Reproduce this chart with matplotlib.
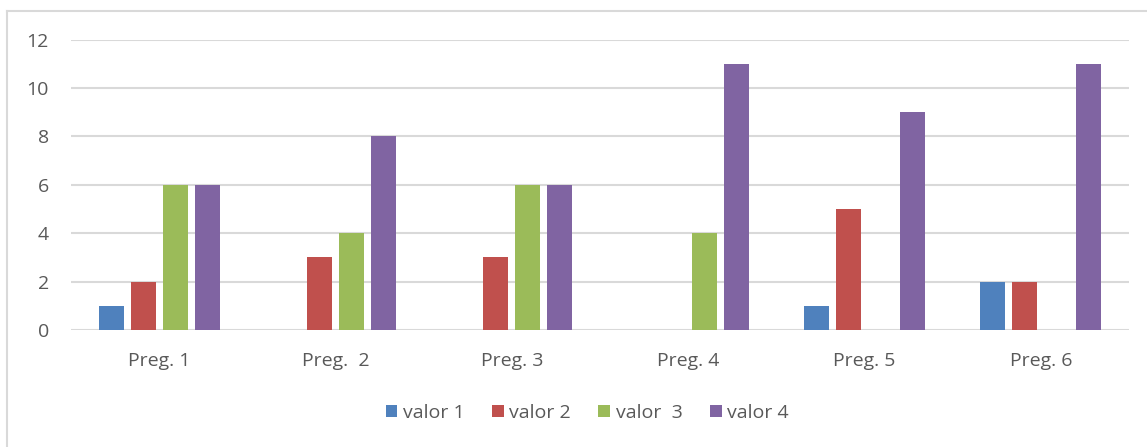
import numpy as np
import matplotlib.pyplot as plt
from matplotlib.lines import Line2D

plt.rcParams['font.family'] = ['Open Sans', 'DejaVu Sans']

preguntas = ['Preg. 1', 'Preg.  2', 'Preg. 3', 'Preg. 4', 'Preg. 5', 'Preg. 6']
series = ['valor 1', 'valor 2', 'valor  3', 'valor 4']
valor1 = [1, 0, 0, 0, 1, 2]
valor2 = [2, 3, 3, 0, 5, 2]
valor3 = [6, 4, 6, 4, 0, 0]
valor4 = [6, 8, 6, 11, 9, 11]
colores = ['#4F81BD', '#C0504D', '#9BBB59', '#8064A2']

texto = '#595959'
rejilla = '#D9D9D9'

fig = plt.figure(figsize=(11.47, 4.47), dpi=100)
ax = fig.add_axes([0.0619, 0.2617, 0.9224, 0.6499])

x = np.arange(len(preguntas))
ancho = 0.142
paso = 0.1815
for i, (vals, nombre, c) in enumerate(zip([valor1, valor2, valor3, valor4], series, colores)):
    ax.bar(x + (i - 1.5) * paso, vals, ancho, color=c, label=nombre, zorder=3)

ax.set_xlim(-0.5, len(preguntas) - 0.5)
ax.set_ylim(0, 12)
ax.set_yticks(range(0, 13, 2))
ax.set_xticks(x)
ax.set_xticklabels(preguntas)
ax.grid(axis='y', color=rejilla, linewidth=1.5, zorder=0)
for s in ax.spines.values():
    s.set_visible(False)
ax.tick_params(length=0, labelsize=14, colors=texto)
ax.tick_params(axis='x', pad=16)
ax.tick_params(axis='y', pad=16)

ax.legend(loc='center', bbox_to_anchor=(0.512, 1 - 413 / 447), bbox_transform=fig.transFigure,
          ncol=4, frameon=False, fontsize=14, handlelength=0.6, handleheight=0.6,
          handletextpad=0.3, columnspacing=1.4, labelcolor=texto)

# marco del gráfico
yb = 1 - 10.7 / 447
xb = 7.5 / 1147
fig.add_artist(Line2D([xb, 1.0], [yb, yb], color=rejilla, linewidth=1.5, transform=fig.transFigure))
fig.add_artist(Line2D([xb, xb], [0, yb], color=rejilla, linewidth=1.5, transform=fig.transFigure))

fig.savefig('out.png', dpi=100, facecolor='white')
